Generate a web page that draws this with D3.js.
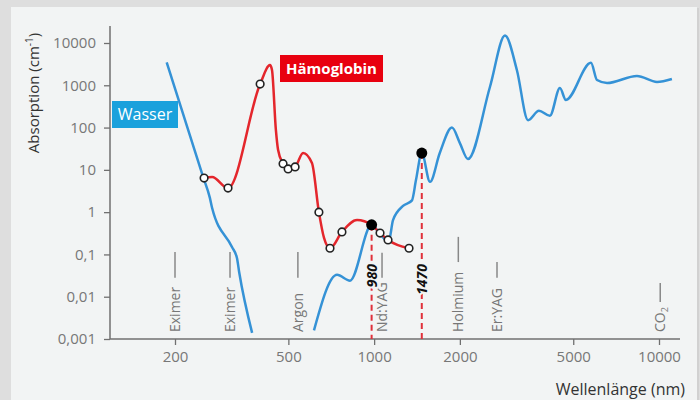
<!DOCTYPE html>
<html>
<head>
<meta charset="utf-8">
<script src="https://cdn.jsdelivr.net/npm/d3@7"></script>
<style>
  body { margin: 0; background: #dedede; }
  svg { display: block; font-family: "Open Sans", sans-serif; }
</style>
</head>
<body>
<div id="chart"></div>
<script>
// axis ticks
const wlTicks = [200, 500, 1000, 2000, 5000, 10000];
const absTicks = [10000, 1000, 100, 10, 1, 0.1, 0.01, 0.001];
const absTickLabels = ['10000', '1000', '100', '10', '1', '0,1', '0,01', '0,001'];

// Wasser, UV part (nm, cm^-1)
const waterUvWl = [187, 251, 265, 270, 317, 330, 336, 373];
const waterUvAbs = [3500, 6.8, 2.2, 1.25, 0.15, 0.082, 0.038, 0.0014];

// Wasser, VIS/IR part
const waterIrWl = [615, 741, 823, 980, 1050, 1125, 1165, 1263, 1358, 1403, 1470, 1571, 1700, 1876, 2000, 2135,
  2550, 2880, 3170, 3470, 3790, 4140, 4490, 4710, 5770, 6060, 6570, 8370, 9840, 11100];
const waterIrAbs = [0.0016, 0.033, 0.024, 0.5, 0.3, 0.2, 0.65, 1.4, 1.9, 5.8, 25, 5.2, 25, 100, 43, 18,
  910, 15000, 2300, 150, 250, 190, 860, 450, 3400, 1330, 1130, 1660, 1200, 1410];

// Hämoglobin
const hbWl = [253, 270, 307, 398, 431, 438, 452, 460, 479, 499, 528, 563, 605, 640, 667, 700, 771, 871, 980, 1049, 1119, 1326];
const hbAbs = [6.4, 6.8, 3.7, 1070, 3000, 2300, 88, 30, 14, 10.5, 11.7, 25, 14.5, 1.0, 0.245, 0.14, 0.34, 0.65, 0.5, 0.32, 0.22, 0.14];
const hbCircle = [1, 0, 1, 1, 0, 0, 0, 0, 1, 1, 1, 0, 0, 1, 0, 1, 1, 0, 0, 1, 1, 1];

// laser wavelengths and the extent of their marks (cm^-1)
const laserNames = ['Eximer', 'Eximer', 'Argon', 'Nd:YAG', 'Holmium', 'Er:YAG', 'CO2'];
const laserWl = [200, 312, 540, 1066, 1975, 2700, 10100];
const laserMarkTop = [0.114, 0.114, 0.114, 0.11, 0.26, 0.066, 0.021];
const laserMarkBottom = [0.028, 0.028, 0.028, 0.028, 0.066, 0.028, 0.0075];

// highlighted diode laser wavelengths
const markerWl = [980, 1470];
const markerAbs = [0.5, 25];
const markerLabels = ['980', '1470'];

const width = 700, height = 400;
const bg = '#f2f4f4';

const svg = d3.select('#chart').append('svg')
  .attr('width', width)
  .attr('height', height);

// frame + panel
svg.append('rect').attr('width', width).attr('height', height).attr('fill', '#dedede');
svg.append('rect').attr('x', 12).attr('y', 8).attr('width', 687).attr('height', 400)
  .attr('fill', '#c8c8c8').attr('opacity', 0.6);
svg.append('rect').attr('x', 11).attr('y', 7).attr('width', 686).attr('height', 400).attr('fill', bg);

const x = d3.scaleLog().domain([200, 10000]).range([175, 659]);
const y = d3.scaleLog().domain([0.001, 10000]).range([339, 43]);

const axisColor = '#707070';
const labelColor = '#777';

// y axis
const yAxis = svg.append('g')
  .attr('transform', 'translate(110,0)')
  .call(d3.axisLeft(y).tickValues(absTicks).tickSize(6).tickPadding(8)
    .tickFormat((d, i) => absTickLabels[i]));
yAxis.select('.domain').remove();
yAxis.selectAll('line').attr('stroke', axisColor).attr('stroke-width', 1.3);
yAxis.selectAll('text').attr('fill', labelColor).style('font-size', '15px')
  .style('font-family', '"Open Sans", sans-serif');
svg.append('line').attr('x1', 110).attr('x2', 110).attr('y1', 26).attr('y2', 339)
  .attr('stroke', axisColor).attr('stroke-width', 1.5);

// x axis
const xAxis = svg.append('g')
  .attr('transform', 'translate(0,339)')
  .call(d3.axisBottom(x).tickValues(wlTicks).tickSize(6).tickPadding(6).tickFormat(d3.format('d')));
xAxis.select('.domain').remove();
xAxis.selectAll('line').attr('stroke', axisColor).attr('stroke-width', 1.3);
xAxis.selectAll('text').attr('fill', labelColor).style('font-size', '15px')
  .style('font-family', '"Open Sans", sans-serif');
svg.append('line').attr('x1', 110).attr('x2', 680).attr('y1', 339).attr('y2', 339)
  .attr('stroke', axisColor).attr('stroke-width', 1.5);

// axis titles
const yTitle = svg.append('text')
  .attr('transform', 'translate(39,93) rotate(-90)')
  .attr('text-anchor', 'middle')
  .attr('fill', '#333')
  .style('font-size', '15px');
yTitle.append('tspan').text('Absorption (cm');
yTitle.append('tspan').attr('dy', -6).style('font-size', '10px').text('-1');
yTitle.append('tspan').attr('dy', 6).text(')');

svg.append('text')
  .attr('x', 685).attr('y', 395)
  .attr('text-anchor', 'end')
  .attr('fill', '#333')
  .style('font-size', '16px')
  .text('Wellenlänge (nm)');

// laser labels
laserNames.forEach((name, i) => {
  const lx = x(laserWl[i]);
  svg.append('line')
    .attr('x1', lx).attr('x2', lx)
    .attr('y1', y(laserMarkTop[i])).attr('y2', y(laserMarkBottom[i]))
    .attr('stroke', '#888').attr('stroke-width', 1.5);
  const t = svg.append('text')
    .attr('transform', `translate(${lx},332) rotate(-90)`)
    .attr('dy', '0.36em')
    .attr('fill', labelColor)
    .style('font-size', '14px');
  if (name === 'CO2') {
    t.append('tspan').text('CO');
    t.append('tspan').attr('dy', '0.3em').style('font-size', '9px').text('2');
  } else {
    t.text(name);
  }
});

// curves
const line = d3.line()
  .x(d => x(d[0]))
  .y(d => y(d[1]))
  .curve(d3.curveMonotoneX);

const blue = '#3592d6';
const red = '#e4262c';

svg.append('path')
  .datum(waterUvWl.map((w, i) => [w, waterUvAbs[i]]))
  .attr('fill', 'none').attr('stroke', blue).attr('stroke-width', 2.5)
  .attr('d', line);

svg.append('path')
  .datum(waterIrWl.map((w, i) => [w, waterIrAbs[i]]))
  .attr('fill', 'none').attr('stroke', blue).attr('stroke-width', 2.5)
  .attr('d', line);

const hbData = hbWl.map((w, i) => [w, hbAbs[i], hbCircle[i]]);
svg.append('path')
  .datum(hbData)
  .attr('fill', 'none').attr('stroke', red).attr('stroke-width', 2.5)
  .attr('d', line);

// dashed marker lines
markerWl.forEach((w, i) => {
  svg.append('line')
    .attr('x1', x(w)).attr('x2', x(w))
    .attr('y1', y(markerAbs[i])).attr('y2', 339)
    .attr('stroke', '#e0303a').attr('stroke-width', 2)
    .attr('stroke-dasharray', '6,4');
  svg.append('text')
    .attr('transform', `translate(${x(w)},264) rotate(-90)`)
    .attr('dy', '0.36em')
    .attr('text-anchor', 'end')
    .attr('fill', '#111')
    .attr('stroke', bg).attr('stroke-width', 4)
    .style('paint-order', 'stroke')
    .style('font-size', '14px')
    .style('font-weight', 'bold')
    .style('font-style', 'italic')
    .text(markerLabels[i]);
});

// open circles on the haemoglobin curve
svg.selectAll('circle.hb')
  .data(hbData.filter(d => d[2]))
  .enter()
  .append('circle')
  .attr('class', 'hb')
  .attr('cx', d => x(d[0]))
  .attr('cy', d => y(d[1]))
  .attr('r', 3.8)
  .attr('fill', '#fff')
  .attr('stroke', '#222')
  .attr('stroke-width', 1.6);

// black dots
svg.selectAll('circle.mk')
  .data(markerWl)
  .enter()
  .append('circle')
  .attr('class', 'mk')
  .attr('cx', d => x(d))
  .attr('cy', (d, i) => y(markerAbs[i]))
  .attr('r', 5.5)
  .attr('fill', '#000');

// series labels
svg.append('rect').attr('x', 112).attr('y', 101).attr('width', 66).attr('height', 27).attr('fill', '#1aa1dc');
svg.append('text').attr('x', 145).attr('y', 120).attr('text-anchor', 'middle')
  .attr('fill', '#fff').style('font-size', '16px').text('Wasser');

svg.append('rect').attr('x', 280).attr('y', 55).attr('width', 103).attr('height', 27).attr('fill', '#e8000f');
svg.append('text').attr('x', 331.5).attr('y', 74).attr('text-anchor', 'middle')
  .attr('fill', '#fff').style('font-size', '15px').style('font-weight', 'bold').text('Hämoglobin');
</script>
</body>
</html>
